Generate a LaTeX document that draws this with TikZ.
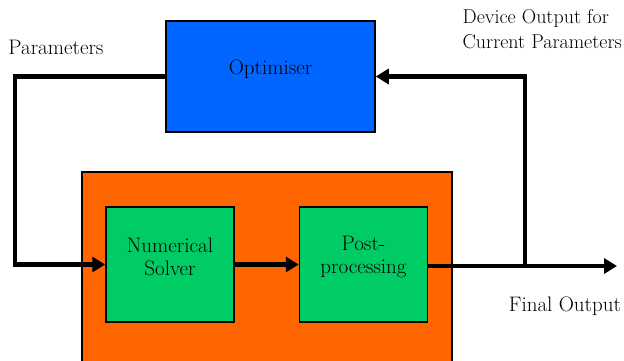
\documentclass[tikz,border=0pt]{standalone}
\usetikzlibrary{arrows.meta, positioning}
\definecolor{optblue}{HTML}{0066FF}
\definecolor{modelorange}{HTML}{FF6600}
\definecolor{stepgreen}{HTML}{00CC66}
\tikzset{
        >={Triangle[length=13pt,width=15pt]}, % big filled arrow heads
        flow/.style={->, line width=4.5pt}, % thick signal lines
        txt/.style={font=\fontsize{21}{25}\selectfont, inner sep=0pt, align=center},
        block/.style 2 args={
		draw=black,
		line width=1.5pt,
		minimum width={#1},
		minimum height={#2},
		inner sep=0pt,
	  },
}

\begin{document}
\begin{tikzpicture}[x=1pt, y=-1pt]
    \clip (0,0) rectangle (624,361);
    \node [block={370pt}{200pt}, fill=modelorange] (model) at (267,272) {};
    \node [block={209pt}{111pt}, fill=optblue] (opt) at (270.5,76.5) {};
    \node [block={128pt}{115pt}, fill=stepgreen] (num) at (170,264.5) {};
    \node [block={128pt}{115pt}, fill=stepgreen, right=64pt of num] (post) {};
    % texts inside the boxes
    \node [txt, yshift=7pt] (opttext) at (opt.center) {Optimiser};
    \node [txt, yshift=8pt] (numtext) at (num.center) {Numerical\\[-2pt]Solver};
    \node [txt, yshift=8pt] (posttext) at (post.center) {Post-\\[-2pt]processing};
    % free labels
    \node [txt] (params) at (56,47) {Parameters};
    \node [txt, font=\fontsize{20}{25}\selectfont, anchor=north east, align=left] (devout) at (622,9) {Device Output for\\Current Parameters};
    \node [txt] (final) at (565,306) {Final Output};
    % connectors
    \coordinate (lt) at (15,76);
    \coordinate (tap) at (525,266);
    \coordinate (out) at (617,266);
    \draw [flow] (opt.west) -- (opt.west -| lt) |- (num.west);
    \draw [flow] (num.east) -- (post.west);
    \draw [flow] (post.east |- tap) -- (out);
    \draw [flow] (tap) |- (opt.east);
\end{tikzpicture}
\end{document}
